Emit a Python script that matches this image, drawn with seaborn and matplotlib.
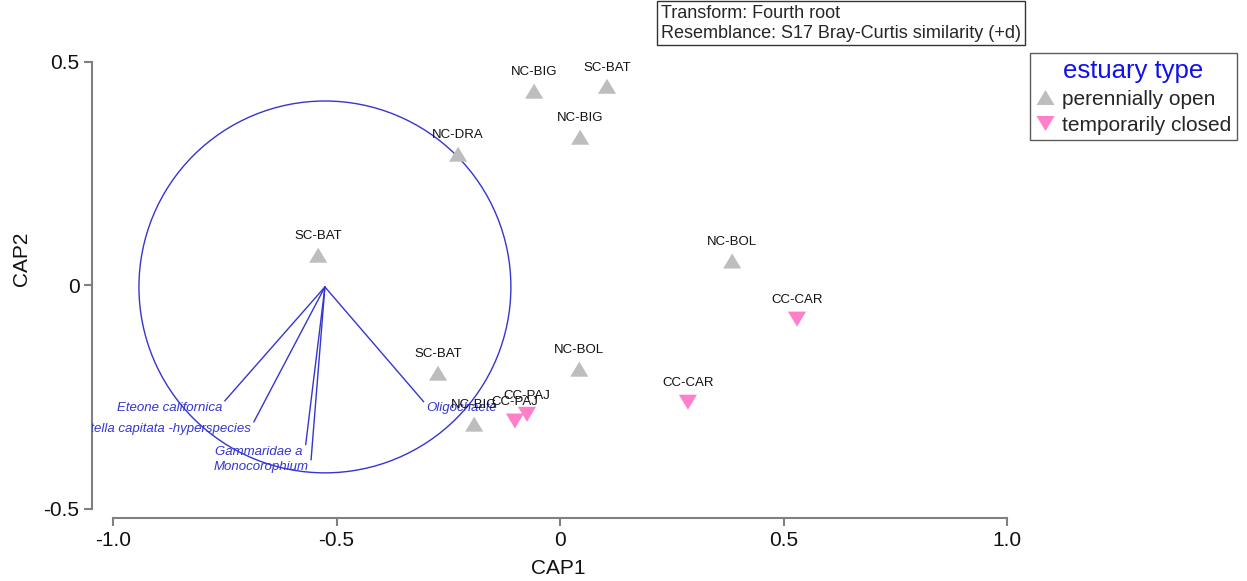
import matplotlib
matplotlib.use("Agg")
import matplotlib.pyplot as plt
import matplotlib.transforms as mtransforms
from matplotlib.patches import Circle
from matplotlib.lines import Line2D
import seaborn as sns
import pandas as pd

# ---------------- data ----------------
sites = ["NC-BIG", "SC-BAT", "NC-BIG", "NC-DRA", "SC-BAT", "NC-BOL", "SC-BAT",
         "NC-BOL", "NC-BIG", "CC-CAR", "CC-CAR", "CC-PAJ", "CC-PAJ"]
cap1 = [-0.058, 0.105, 0.045, -0.228, -0.541, 0.385, -0.273,
        0.043, -0.192, 0.530, 0.286, -0.074, -0.101]
cap2 = [0.434, 0.445, 0.331, 0.293, 0.067, 0.054, -0.197,
        -0.188, -0.311, -0.076, -0.262, -0.289, -0.304]
estuary = ["perennially open"] * 9 + ["temporarily closed"] * 4

species = ["Eteone californica", "Capitella capitata -hyperspecies",
           "Gammaridae a", "Monocorophium", "Oligochaete"]
vec_dx = [-0.224, -0.159, -0.043, -0.031, 0.221]
vec_dy = [-0.255, -0.302, -0.353, -0.387, -0.257]
vec_origin = (-0.526, -0.004)
circle_radius = 0.416

x_ticks = [-1.0, -0.5, 0.0, 0.5, 1.0]
x_ticklabels = ["-1.0", "-0.5", "0", "0.5", "1.0"]
y_ticks = [-0.5, 0.0, 0.5]
y_ticklabels = ["-0.5", "0", "0.5"]

groups = ["perennially open", "temporarily closed"]
colors = {"perennially open": "#bdbdbd", "temporarily closed": "#ff7fc8"}
up_tri = [(0, 0.83), (-1, -0.83), (1, -0.83)]
down_tri = [(0, -0.83), (-1, 0.83), (1, 0.83)]
markers = {"perennially open": up_tri, "temporarily closed": down_tri}

blue = "#3535d0"

# ---------------- figure ----------------
sns.set_style("ticks")
plt.rcParams["font.family"] = ["Liberation Sans", "DejaVu Sans"]

fig = plt.figure(figsize=(12.47, 5.81), dpi=100)
ax = fig.add_axes([92 / 1247, 63 / 581, 933 / 1247, 518 / 581])
ax.set_xlim(-1.047, 1.040)
ax.set_ylim(-0.521, 0.638)

df = pd.DataFrame({"CAP1": cap1, "CAP2": cap2, "estuary": estuary, "site": sites})

# circle and vectors
ax.add_patch(Circle(vec_origin, circle_radius, fill=False, ec=blue, lw=1.0, zorder=1))
for name, dx, dy in zip(species, vec_dx, vec_dy):
    ex, ey = vec_origin[0] + dx, vec_origin[1] + dy
    ax.plot([vec_origin[0], ex], [vec_origin[1], ey], color=blue, lw=1.0, zorder=1)
    if dx < 0:
        tr = mtransforms.offset_copy(ax.transData, fig=fig, x=-2, y=-5, units="points")
        ha = "right"
    else:
        tr = mtransforms.offset_copy(ax.transData, fig=fig, x=1.5, y=-4.5, units="points")
        ha = "left"
    ax.text(ex, ey, name, transform=tr, ha=ha, va="center", fontsize=9.5,
            style="italic", color=blue, clip_on=True, zorder=3)

sns.scatterplot(data=df, x="CAP1", y="CAP2", hue="estuary", style="estuary",
                palette=colors, markers=markers, s=170, edgecolor="none",
                linewidth=0, legend=False, ax=ax, zorder=2)

lab_tr = mtransforms.offset_copy(ax.transData, fig=fig, x=0, y=13.5, units="points")
for x, y, s in zip(cap1, cap2, sites):
    ax.text(x, y, s, transform=lab_tr, ha="center", va="center", fontsize=9.5,
            color="#111111", zorder=4)

# axes styling
for side in ["top", "right"]:
    ax.spines[side].set_visible(False)
ax.spines["left"].set_bounds(-0.5, 0.5)
ax.spines["bottom"].set_bounds(-1.0, 1.0)
for side in ["left", "bottom"]:
    ax.spines[side].set_color("#808080")
    ax.spines[side].set_linewidth(1.5)
ax.set_xticks(x_ticks)
ax.set_xticklabels(x_ticklabels)
ax.set_yticks(y_ticks)
ax.set_yticklabels(y_ticklabels)
ax.tick_params(axis="both", direction="out", length=6, width=1.5, color="#808080",
               labelsize=15, pad=3, labelcolor="#111111")
ax.set_xlabel("CAP1", fontsize=15, labelpad=7, color="#111111")
ax.set_ylabel("CAP2", fontsize=15, labelpad=9, color="#111111")

# title box
fig.text(661 / 1247, 1 - 5 / 581,
         "Transform: Fourth root\nResemblance: S17 Bray-Curtis similarity (+d)",
         ha="left", va="top", fontsize=13, linespacing=1.2,
         bbox=dict(boxstyle="square,pad=0.2", fc="white", ec="#333333", lw=1))

# legend
handles = [Line2D([], [], ls="", marker=markers[g], color=colors[g], markersize=13,
                  markeredgewidth=0) for g in groups]
leg = fig.legend(handles, groups, loc="upper left",
                 bbox_to_anchor=(1030 / 1247, 1 - 53 / 581),
                 title="estuary type", fontsize=15, title_fontsize=18.5,
                 frameon=True, fancybox=False, edgecolor="#333333",
                 borderpad=0.28, labelspacing=0.33, handlelength=0.9,
                 handletextpad=0.35, borderaxespad=0)
leg.get_title().set_color("#1010ee")
leg.get_frame().set_linewidth(1.0)

fig.savefig("out.png", dpi=100)
